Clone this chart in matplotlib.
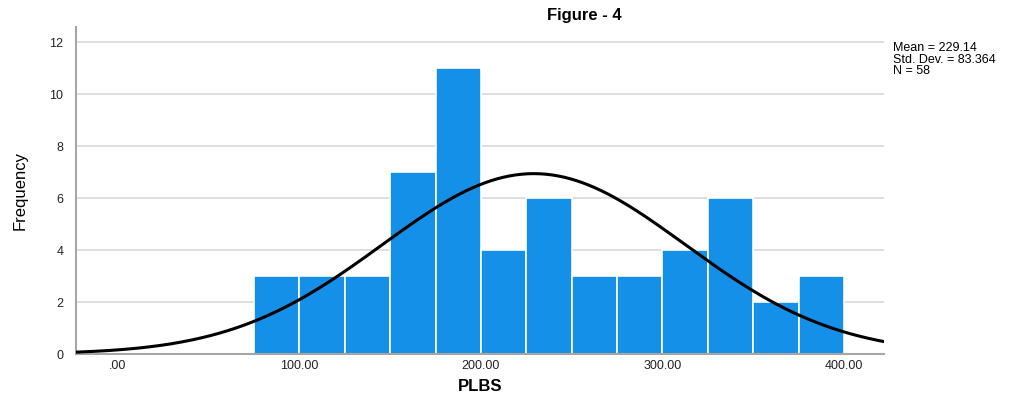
import matplotlib
matplotlib.use("Agg")
import matplotlib.pyplot as plt
import numpy as np

plt.rcParams["font.family"] = ["Liberation Sans", "DejaVu Sans"]

# Histograma de PLBS con curva normal superpuesta
bin_edges = [75, 100, 125, 150, 175, 200, 225, 250, 275, 300, 325, 350, 375, 400]
counts = [3, 3, 3, 7, 11, 4, 6, 3, 3, 4, 6, 2, 3]
mean_val = 229.14
std_val = 83.364
n_obs = 58

x_ticks = [0, 100, 200, 300, 400]
x_ticklabels = [".00", "100.00", "200.00", "300.00", "400.00"]
y_ticks = [0, 2, 4, 6, 8, 10, 12]

BAR_COLOR = "#1590e8"
GRID_COLOR = "#d9d9d9"
AXIS_COLOR = "#a6a6a6"

fig = plt.figure(figsize=(10.19, 3.97), dpi=100)
ax = fig.add_axes([0.0746, 0.1083, 0.7929, 0.8237])

widths = np.diff(bin_edges)
ax.bar(bin_edges[:-1], counts, width=widths, align="edge",
       color=BAR_COLOR, edgecolor="white", lw=1.2, zorder=2)

# Curva normal escalada a frecuencias
bw = widths[0]
xs = np.linspace(-23, 422, 400)
ys = n_obs * bw / (std_val * np.sqrt(2 * np.pi)) * np.exp(-0.5 * ((xs - mean_val) / std_val) ** 2)
ax.plot(xs, ys, color="black", lw=2.2, zorder=3)

ax.set_xlim(-23, 422)
ax.set_ylim(0, 12.58)
ax.set_xticks(x_ticks)
ax.set_xticklabels(x_ticklabels)
ax.set_yticks(y_ticks)
ax.tick_params(length=0, labelsize=9, colors="#222222")
ax.tick_params(axis="x", pad=4)
ax.tick_params(axis="y", pad=9)
ax.grid(True, axis="y", color=GRID_COLOR, lw=1.2, zorder=0)
ax.set_axisbelow(True)
for s in ["top", "right"]:
    ax.spines[s].set_visible(False)
for s in ["left", "bottom"]:
    ax.spines[s].set_color(AXIS_COLOR)
    ax.spines[s].set_linewidth(1.5)

ax.set_xlabel("PLBS", fontsize=12, weight="bold", labelpad=5)
ax.set_ylabel("Frequency", fontsize=12, labelpad=16, fontstretch="condensed")

fig.text(0.573, 0.962, "Figure - 4", fontsize=12, weight="bold", ha="center", va="center")
fig.text(0.876, 0.895,
         f"Mean = {mean_val:.2f}\nStd. Dev. = {std_val:.3f}\nN = {n_obs}",
         fontsize=9, ha="left", va="top", linespacing=0.98)

fig.savefig("out.png", dpi=100)
plt.close(fig)
